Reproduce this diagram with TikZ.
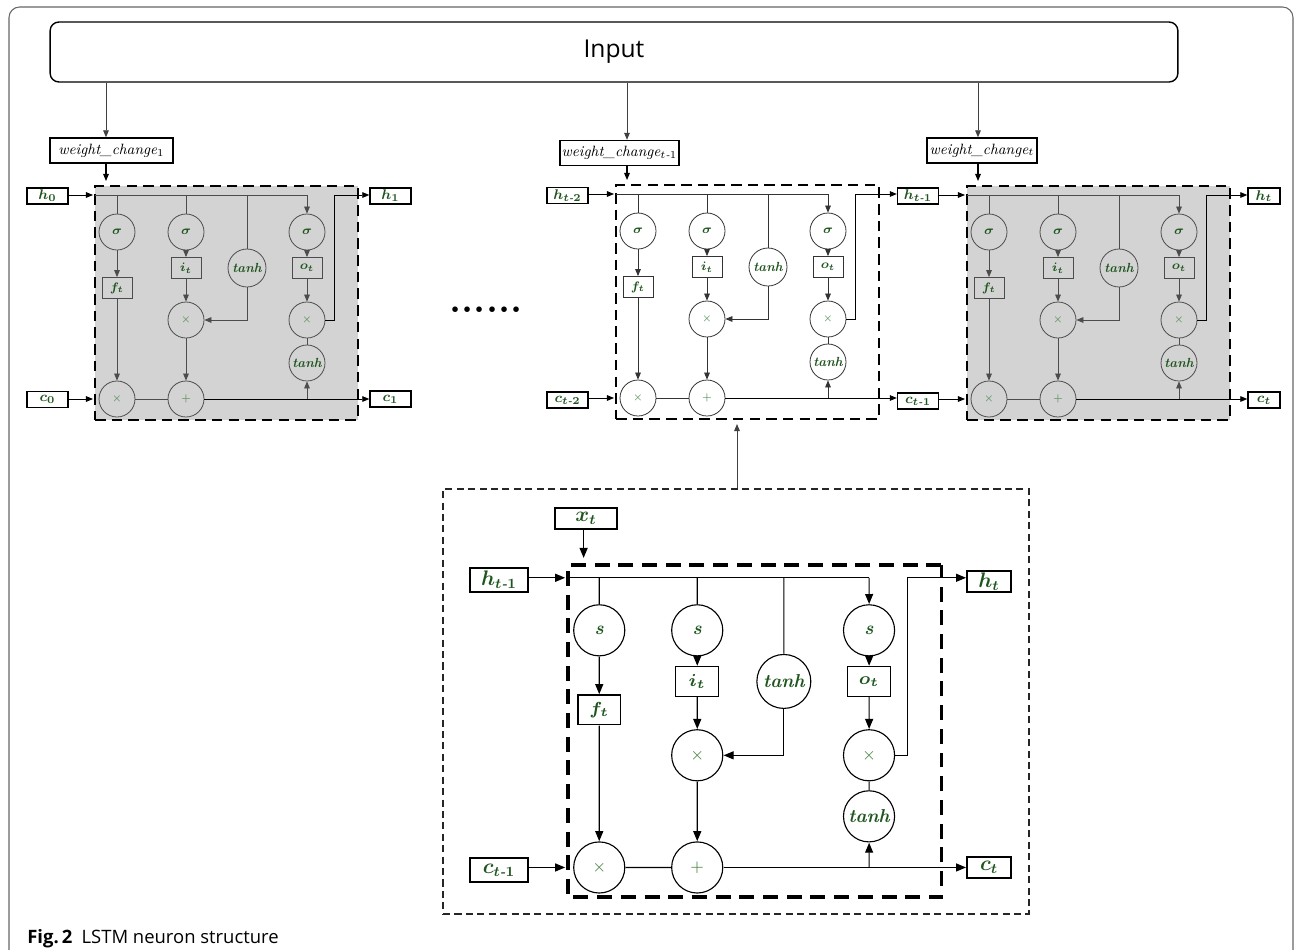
\documentclass[tikz,border=0pt]{standalone}
\usepackage{amsmath,amssymb,fontspec}
\usetikzlibrary{arrows.meta,calc,positioning}
\newfontfamily\capfont{Open Sans}
\definecolor{lblgreen}{RGB}{30,85,30}
\definecolor{opgreen}{RGB}{70,135,70}
\definecolor{cellgray}{RGB}{211,211,211}
\tikzset{
  arr/.style={-{Triangle[length=4pt,width=3.2pt,scale=#1]}},
  arr/.default=1,
  gate/.style={circle,draw,minimum size=0.72cm,inner sep=0pt,text=lblgreen,
    font=\boldmath\bfseries\itshape\fontsize{7.5}{8}\selectfont},
  valbox/.style={rectangle,draw,minimum width=0.6cm,minimum height=0.42cm,inner sep=0pt,text=lblgreen,
    font=\boldmath\bfseries\itshape\fontsize{7.5}{8}\selectfont},
  opnode/.style={circle,draw,minimum size=0.72cm,inner sep=0pt,text=opgreen,font=\fontsize{6}{6}\selectfont},
  iobox/.style={rectangle,draw,line width=0.8pt,inner sep=0pt,text=lblgreen,minimum width=0.82cm,minimum height=0.32cm,
    font=\boldmath\bfseries\itshape\fontsize{8}{9}\selectfont},
  bigio/.style={iobox,line width=1.1pt,minimum width=1.16cm,minimum height=0.48cm,
    font=\boldmath\bfseries\itshape\fontsize{12}{13}\selectfont},
  wbox/.style={rectangle,draw,line width=0.8pt,inner sep=0pt,minimum height=0.5cm,font=\itshape\fontsize{8.5}{9}\selectfont}
}

\begin{document}
\begin{tikzpicture}[x=0.02cm,y=-0.02cm]
	\useasboundingbox (0,0) rectangle (1295,950);
	% frame and input
	\draw[black!60,line width=0.6pt,rounded corners=6pt] (9,950) -- (9,7) -- (1293,7) -- (1293,950);
	\node[draw,rounded corners=5pt,line width=0.8pt,minimum width=22.56cm,minimum height=1.2cm,
		font=\capfont\fontsize{14}{15}\selectfont] (in) at (614,52) {Input};
	\node[wbox,minimum width=2.46cm] (w1) at (111.5,150.5) {weight\_change$_1$};
	\node[wbox,minimum width=2.38cm] (w2) at (619.5,153) {weight\_change$_{t\text{-}1}$};
	\node[wbox,minimum width=2.2cm] (w3) at (982,150.5) {weight\_change$_t$};
	% in / out boxes
	\node[iobox] (h0) at (47.5,196) {$h_0$};
	\node[iobox] (c0) at (47.5,399.5) {$c_0$};
	\node[iobox] (h1) at (390.5,196) {$h_1$};
	\node[iobox] (c1) at (390.5,399) {$c_1$};
	\node[iobox] (h2) at (567.5,195.5) {$h_{t\text{-}2}$};
	\node[iobox] (c2) at (567.5,400) {$c_{t\text{-}2}$};
	\node[iobox] (h3) at (918,196) {$h_{t\text{-}1}$};
	\node[iobox] (c3) at (918,401) {$c_{t\text{-}1}$};
	\node[iobox,minimum width=0.64cm] (h4) at (1264,196) {$h_t$};
	\node[iobox,minimum width=0.64cm] (c4) at (1264,400) {$c_t$};
	\node[bigio] (hx) at (499,580) {$h_{t\text{-}1}$};
	\node[bigio] (cx) at (499,870) {$c_{t\text{-}1}$};
	\node[bigio,minimum width=0.88cm,minimum height=0.42cm] (hy) at (989,581.5) {$h_t$};
	\node[bigio,minimum width=0.88cm,minimum height=0.42cm] (cy) at (989,867.5) {$c_t$};
	\node[bigio,minimum width=1.24cm,minimum height=0.42cm] (xt) at (586,518.5) {$x_t$};
	\node[font=\bfseries\fontsize{22}{22}\selectfont,inner sep=0pt] (dots) at (486,310) {......};
	\node[draw=black!85,line width=0.7pt,dash pattern=on 4pt off 2.5pt,minimum width=11.72cm,minimum height=8.5cm,
		inner sep=0pt] (zm) at (736,701.5) {};
	% cells
	\foreach \n/\x/\y/\s/\bg/\lc/\g in {a/95/186/1/cellgray/black!70/$\sigma$,b/616/185/1/white/black!80/$\sigma$,
		c/967/186/1/cellgray/black!70/$\sigma$,d/568/565/1.42/white/black/s}{
		\pgfmathsetlengthmacro\don{6pt*\s}
		\pgfmathsetlengthmacro\doff{3.5pt*\s}
		\begin{scope}[shift={(\x,\y)},scale=\s,transform shape,line width=\s*0.45pt,color=\lc]
			\node[draw=black,fill=\bg,line width=\s*1.5pt,dash pattern=on \don off \doff,minimum width=5.26cm,
				minimum height=4.68cm,inner sep=0pt] (\n) at (131.5,117) {};
			\node[gate] (\n-sf) at (22,46) {\g};
			\node[gate] (\n-si) at (91,46) {\g};
			\node[gate] (\n-so) at (212,46) {\g};
			\node[gate,minimum size=0.76cm] (\n-tg) at (152,82) {tanh};
			\node[valbox] (\n-ft) at (22,102) {$f_t$};
			\node[valbox] (\n-it) at (91,82) {$i_t$};
			\node[valbox] (\n-ot) at (212,82) {$o_t$};
			\node[opnode] (\n-mi) at (91,134) {$\times$};
			\node[opnode] (\n-mo) at (212,134) {$\times$};
			\node[gate] (\n-tc) at (212,177) {tanh};
			\node[opnode] (\n-mf) at (22,213) {$\times$};
			\node[opnode] (\n-ad) at (91,213) {$+$};
			\coordinate (\n-hl) at (0,9);
			\coordinate (\n-hr) at (239,9);
			\coordinate (\n-hin) at (-2,9);
			\coordinate (\n-cin) at (-2,213);
			\coordinate (\n-xin) at (11,-5);
			\draw (\n-hl) -- (\n-hl -| \n-so);
			\draw[arr=\s] (\n-hl -| \n-so) -- (\n-so);
			\foreach \k in {sf,si,tg} \draw (\n-hl -| \n-\k) -- (\n-\k);
			\draw[arr=\s] (\n-sf) -- (\n-ft);
			\draw[arr=\s] (\n-ft) -- (\n-mf);
			\draw[arr=\s] (\n-si) -- (\n-it);
			\draw[arr=\s] (\n-it) -- (\n-mi);
			\draw[arr=\s] (\n-tg) |- (\n-mi);
			\draw[arr=\s] (\n-mi) -- (\n-ad);
			\draw[arr=\s] (\n-so) -- (\n-ot);
			\draw[arr=\s] (\n-ot) -- (\n-mo);
			\draw (\n-mo) -- (\n-tc);
			\draw (\n-mf) -- (\n-ad);
			\draw[arr=\s] (\n-tc |- \n-ad) -- (\n-tc);
		\end{scope}
	}
	% links between cells and boxes
	\foreach \n/\hi/\ci/\ho/\co/\sc in {a/h0/c0/h1/c1/1,b/h2/c2/h3/c3/1,c/h3/c3/h4/c4/1,d/hx/cx/hy/cy/1.42}{
		\draw[arr=\sc,line width=\sc*0.5pt] (\hi.east |- \n-hin) -- (\n-hin);
		\draw[arr=\sc,line width=\sc*0.5pt] (\ci.east |- \n-cin) -- (\n-cin);
		\draw[arr=\sc,line width=\sc*0.5pt] (\n-mo) -| (\n-hr) -- (\n-hr -| \ho.west);
		\draw[arr=\sc,line width=\sc*0.5pt] (\n-ad) -- (\n-ad -| \co.west);
	}
	\foreach \w/\n in {w1/a,w2/b,w3/c}{
		\draw[arr,line width=0.5pt,black!75] (in.south -| \n-xin) -- (\w.north -| \n-xin);
		\draw[arr,line width=0.6pt] (\w.south -| \n-xin) -- (\n-xin);
	}
	\draw[arr=1.42,line width=0.8pt] (xt.south -| d-xin) -- (d-xin);
	\coordinate (up) at (737,424);
	\draw[arr,line width=0.5pt,black!75] (zm.north -| up) -- (up);
	% caption
	\node[anchor=base west,inner sep=0pt,font=\capfont\fontsize{10.5}{12}\selectfont] (cap) at (27,943)
		{\textbf{Fig.\,2}\enspace LSTM neuron structure};
\end{tikzpicture}
\end{document}
